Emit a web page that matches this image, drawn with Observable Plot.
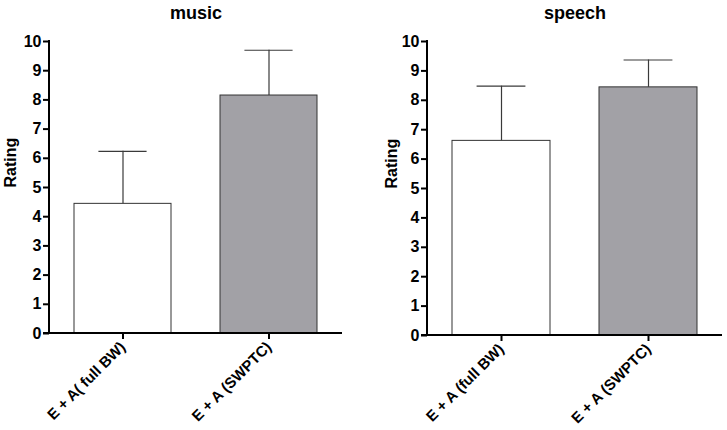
<!DOCTYPE html>
<html>
<head>
<meta charset="utf-8">
<script src="https://cdn.jsdelivr.net/npm/d3@7"></script>
<script src="https://cdn.jsdelivr.net/npm/@observablehq/plot@0.6"></script>
<style>
  body { margin: 0; background: #fff; }
  #wrap { display: flex; width: 727px; height: 430px; }
</style>
</head>
<body>
<div id="wrap"></div>
<script>
const musicCategories = ["E + A( full BW)", "E + A (SWPTC)"];
const speechCategories = ["E + A (full BW)", "E + A (SWPTC)"];
const musicMeans = [4.44, 8.15];
const musicErrors = [1.80, 1.55];
const speechMeans = [6.62, 8.44];
const speechErrors = [1.86, 0.93];
const barFills = ["#ffffff", "#a2a1a6"];
const yTicks = [0, 1, 2, 3, 4, 5, 6, 7, 8, 9, 10];
const yLabel = "Rating";

const FONT = "'Liberation Sans', Arial, Helvetica, sans-serif";

function panel(title, cats, means, errs, o) {
  const data = cats.map((c, i) => ({cat: c, mean: means[i], top: means[i] + errs[i], fill: barFills[i]}));
  const range = o.width - o.ml - o.mr;
  const bandwidth = (range / 2) * (2 / 3);
  const axisLine = (index, scales, values, dims) => {
    const g = d3.create("svg:g");
    const x0 = dims.marginLeft;
    g.append("line")
      .attr("x1", x0).attr("x2", x0)
      .attr("y1", scales.y(10) - 1).attr("y2", scales.y(0))
      .attr("stroke", "#000").attr("stroke-width", 2);
    g.append("line")
      .attr("x1", x0 - 6).attr("x2", dims.width - dims.marginRight)
      .attr("y1", scales.y(0)).attr("y2", scales.y(0))
      .attr("stroke", "#000").attr("stroke-width", 2);
    return g.node();
  };
  return Plot.plot({
    width: o.width,
    height: 430,
    marginLeft: o.ml,
    marginRight: o.mr,
    marginTop: 41,
    marginBottom: o.mb,
    style: {fontFamily: FONT, fontWeight: "bold", fontSize: "15px", color: "#000", background: "#fff", overflow: "visible"},
    x: {domain: cats, paddingInner: 1/3, paddingOuter: 1/6},
    y: {domain: [0, 10]},
    color: {type: "identity"},
    marks: [
      Plot.ruleX(data, {x: "cat", y1: "mean", y2: "top", stroke: "#3a3a3a", strokeWidth: 1.2}),
      Plot.tickY(data, {x: "cat", y: "top", stroke: "#3a3a3a", strokeWidth: 1.2, insetLeft: bandwidth / 4, insetRight: bandwidth / 4}),
      Plot.barY(data, {x: "cat", y: "mean", fill: "fill", stroke: "#333", strokeWidth: 1}),
      Plot.axisY({ticks: yTicks, tickSize: 6, tickPadding: 2, strokeWidth: 2, fontSize: 16, label: null}),
      Plot.axisX({tickRotate: -45, tickSize: 6, tickPadding: 5, strokeWidth: 2, label: null}),
      axisLine,
      Plot.text([yLabel], {frameAnchor: "left", rotate: -90, dx: -o.lo, fontSize: 16, fontWeight: "bold", fill: "#000"}),
      Plot.text([title], {frameAnchor: "top", dy: -23, lineAnchor: "bottom", fontSize: 18, fontWeight: "bold", fill: "#000"})
    ]
  });
}

const wrap = document.getElementById("wrap");
wrap.append(panel("music", musicCategories, musicMeans, musicErrors, {width: 360, ml: 49, mr: 18, mb: 97, lo: 39}));
wrap.append(panel("speech", speechCategories, speechMeans, speechErrors, {width: 367, ml: 67, mr: 5, mb: 95, lo: 36}));
</script>
</body>
</html>
